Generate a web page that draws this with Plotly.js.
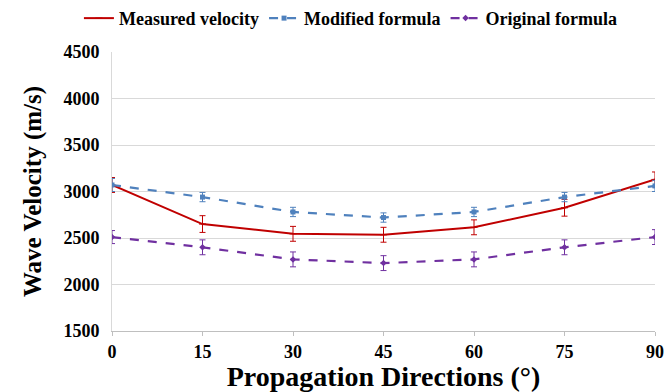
<!DOCTYPE html>
<html><head><meta charset="utf-8">
<script src="https://cdn.plot.ly/plotly-3.0.1.min.js"></script>
<style>body{margin:0;background:#fff}#c{width:668px;height:392px}</style>
</head><body><div id="c"></div>
<script>
const angles = [0, 15, 30, 45, 60, 75, 90];
const measured = [3070, 2650, 2545, 2535, 2615, 2825, 3130];
const measuredErr = [80, 90, 80, 80, 80, 90, 80];
const modified = [3070, 2940, 2780, 2720, 2780, 2940, 3060];
const modifiedErr = [70, 50, 50, 50, 50, 50, 60];
const original = [2510, 2400, 2270, 2230, 2270, 2400, 2510];
const originalErr = [70, 80, 80, 80, 80, 80, 80];
const yTicks = [1500, 2000, 2500, 3000, 3500, 4000, 4500];

const font = {family: 'Liberation Serif, Times New Roman, serif', color: '#000'};
function tr(name, y, err, color, dash, sym) {
  return {x: angles, y: y, name: name, type: 'scatter', mode: 'lines+markers',
    line: {color: color, width: dash === 'solid' ? 2 : 2.2, dash: dash},
    marker: {color: color, size: 5, symbol: sym},
    error_y: {type: 'data', array: err, visible: true, color: color, thickness: 1, width: 3}};
}
const data = [
  tr('<b>Measured velocity</b>', measured, measuredErr, '#c00000', 'solid', 'line-ew-open'),
  tr('<b>Modified formula</b>', modified, modifiedErr, '#4f81bd', 'dash', 'square'),
  tr('<b>Original formula</b>', original, originalErr, '#7030a0', 'dash', 'diamond')
];
const layout = {
  width: 668, height: 392,
  margin: {l: 112, r: 13, t: 52, b: 61},
  paper_bgcolor: '#fff', plot_bgcolor: '#fff',
  font: font,
  showlegend: true,
  legend: {orientation: 'h', x: 0.44, xanchor: 'center', yref: 'container', y: 0.953, yanchor: 'middle',
    font: {family: font.family, size: 18, color: '#000'}, itemwidth: 30, tracegroupgap: 0},
  xaxis: {range: [0, 90], tickvals: angles, ticktext: angles.map(v => '<b>' + v + '</b>'), showgrid: false,
    zeroline: false, showline: true, linecolor: '#bfbfbf', linewidth: 1,
    ticks: 'outside', ticklen: 4, tickcolor: '#bfbfbf',
    tickfont: {family: font.family, size: 18, color: '#000'},
    title: {text: '<b>Propagation Directions (°)</b>', font: {family: font.family, size: 28, color: '#000'}, standoff: 0}},
  yaxis: {range: [1500, 4500], tickvals: yTicks, ticktext: yTicks.map(v => '<b>' + v + '</b>'),
    showgrid: true, gridcolor: '#d9d9d9', gridwidth: 1, zeroline: false,
    showline: true, linecolor: '#d9d9d9', ticks: '', ticklabelstandoff: 8,
    tickfont: {family: font.family, size: 18, color: '#000'},
    title: {text: '<b>Wave Velocity (m/s)</b>', font: {family: font.family, size: 25, color: '#000'}, standoff: 14}}
};
Plotly.newPlot('c', data, layout, {displayModeBar: false, staticPlot: true});
</script></body></html>
